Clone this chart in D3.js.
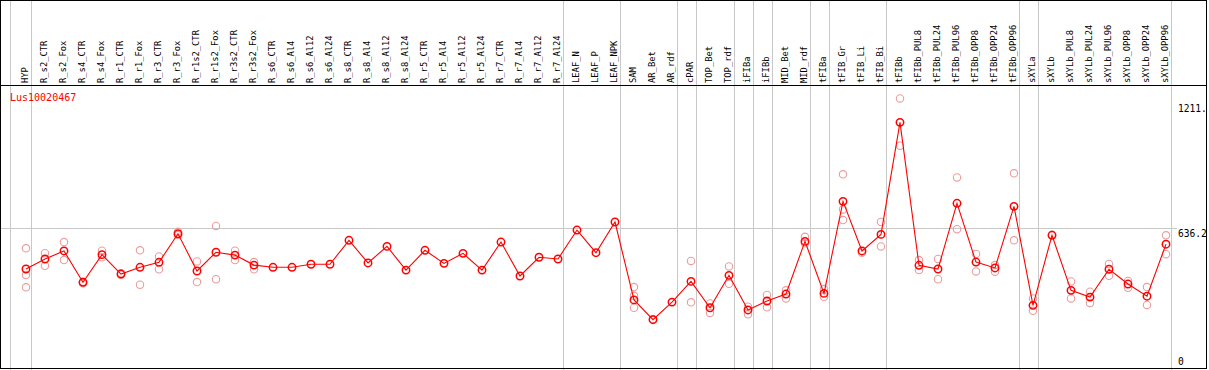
<!DOCTYPE html>
<html>
<head>
<meta charset="utf-8">
<script src="https://cdn.jsdelivr.net/npm/d3@7/dist/d3.min.js"></script>
<style>
  html, body { margin: 0; padding: 0; background: #fff; }
  svg { display: block; }
  text { font-family: "DejaVu Sans Mono", monospace; }
</style>
</head>
<body>
<script>
const categories = ["HYP","R_s2_CTR","R_s2_Fox","R_s4_CTR","R_s4_Fox","R_r1_CTR","R_r1_Fox","R_r3_CTR","R_r3_Fox","R_r1s2_CTR","R_r1s2_Fox","R_r3s2_CTR","R_r3s2_Fox","R_s6_CTR","R_s6_Al4","R_s6_Al12","R_s6_Al24","R_s8_CTR","R_s8_Al4","R_s8_Al12","R_s8_Al24","R_r5_CTR","R_r5_Al4","R_r5_Al12","R_r5_Al24","R_r7_CTR","R_r7_Al4","R_r7_Al12","R_r7_Al24","LEAF_N","LEAF_P","LEAF_NPK","SAM","AR_Bet","AR_rdf","cPAR","TOP_Bet","TOP_rdf","iFIBa","iFIBb","MID_Bet","MID_rdf","tFIBa","tFIB_Gr","tFIB_Li","tFIB_Bi","tFIBb","tFIBb_PUL8","tFIBb_PUL24","tFIBb_PUL96","tFIBb_OPP8","tFIBb_OPP24","tFIBb_OPP96","sXYLa","sXYLb","sXYLb_PUL8","sXYLb_PUL24","sXYLb_PUL96","sXYLb_OPP8","sXYLb_OPP24","sXYLb_OPP96"];

const means = [448,494,531,387,514,425,456,479,610,439,525,512,466,456,456,470,470,580,476,552,443,534,474,520,443,572,416,502,494,627,523,664,306,215,296,391,270,419,260,301,333,575,336,759,531,607,1122,465,448,750,480,453,736,281,603,350,319,447,379,323,562];

const replicates = [
  [543,420,364],[521,463],[572,489],[390,383],[532,502],[428,422],[534,376],[506,447],[619,604],[483,388],
  [646,401],[532,489],[480,447],[],[],[],[],[],[],[],
  [],[],[],[],[],[],[],[],[],[],
  [],[],[365,325,270],[218],[],[485,295],[290,246],[460,380],[275,240],[329,272],
  [350,313],[596,566],[356,321],[883,722,673],[523],[664,552],[1232,1015],[489,443],[494,401],[869,631],
  [517,437],[466,436],[888,580],[313,256],[606],[391,313],[344,292],[471,417],[393,362],[365,283],
  [603,516]
];

const groupEnds = [0,28,31,34,35,37,38,39,41,42,45,52,53,60];
const yTickValues = [0, 636.2, 1211];
const yTickLabels = ["0", "636.2", "1211."];
const geneName = "Lus10020467";

const W = 1209, H = 370;
const svg = d3.select("body").append("svg").attr("width", W).attr("height", H);

const x = d3.scalePoint().domain(categories).range([26, 1166]);
const y = d3.scaleLinear().domain([0, 1211]).range([366.5, 103]);

// group separators
const sepX = [x(categories[0]) - 16].concat(groupEnds.map(i => x(categories[i]) + 4.7));
svg.append("g").selectAll("line").data(sepX).join("line")
  .attr("x1", d => Math.round(d) + 0.5).attr("x2", d => Math.round(d) + 0.5)
  .attr("y1", 0).attr("y2", H)
  .attr("stroke", "#c8c8c8").attr("stroke-width", 1);

// horizontal reference line
svg.append("line")
  .attr("x1", 1).attr("x2", 1177)
  .attr("y1", Math.round(y(636.2)) + 0.5).attr("y2", Math.round(y(636.2)) + 0.5)
  .attr("stroke", "#c8c8c8").attr("stroke-width", 1);

// frame
svg.append("rect").attr("x", 0.5).attr("y", 0.5).attr("width", 1206).attr("height", 368)
  .attr("fill", "none").attr("stroke", "#000").attr("stroke-width", 1);
svg.append("line").attr("x1", 0).attr("x2", 1207).attr("y1", 85.5).attr("y2", 85.5)
  .attr("stroke", "#000").attr("stroke-width", 1);

// category labels
svg.append("g").selectAll("text").data(categories).join("text")
  .attr("transform", d => `translate(${x(d) + 2},83) rotate(-90)`)
  .attr("font-size", "8.8px").attr("fill", "#000")
  .text(d => d);

// y labels
svg.append("g").selectAll("text").data(yTickValues).join("text")
  .attr("x", 1178)
  .attr("y", d => d === 0 ? y(d) - 1.5 : y(d) + 8.5)
  .attr("font-size", "9.6px").attr("fill", "#000")
  .text((d, i) => yTickLabels[i]);

// gene name
svg.append("text").attr("x", 10).attr("y", 101).attr("font-size", "10px").attr("fill", "#ff0000").text(geneName);

// replicate points
const repData = [];
replicates.forEach((arr, i) => arr.forEach(v => repData.push({c: categories[i], v})));
svg.append("g").selectAll("circle").data(repData).join("circle")
  .attr("cx", d => x(d.c)).attr("cy", d => y(d.v)).attr("r", 3.7)
  .attr("fill", "none").attr("stroke", "#ec9c9c").attr("stroke-width", 1.1);

// mean line
const line = d3.line().x((d, i) => x(categories[i])).y(d => y(d));
svg.append("path").datum(means).attr("d", line)
  .attr("fill", "none").attr("stroke", "#ff0000").attr("stroke-width", 1.1);

// mean points
svg.append("g").selectAll("circle").data(means).join("circle")
  .attr("cx", (d, i) => x(categories[i])).attr("cy", d => y(d)).attr("r", 3.7)
  .attr("fill", "none").attr("stroke", "#ff0000").attr("stroke-width", 1.5);
</script>
</body>
</html>
